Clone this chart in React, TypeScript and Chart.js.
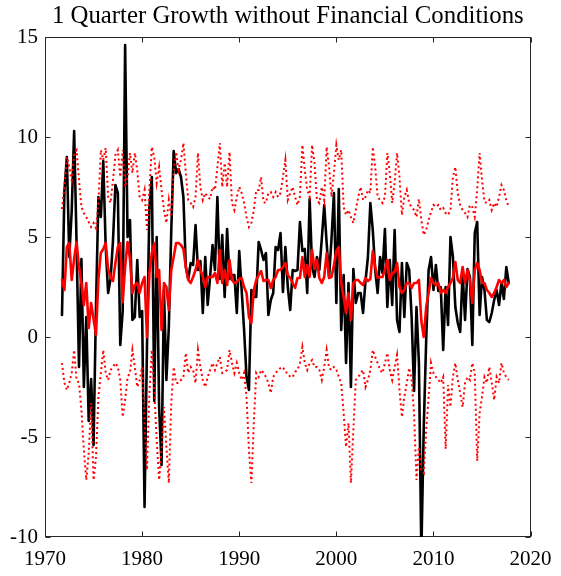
import React, { useEffect, useRef } from "react";
import { Chart, registerables } from "chart.js";

Chart.register(...registerables);

const TITLE = "1 Quarter Growth without Financial Conditions";
const FIRST_QUARTER = 1971.75;
const X_TICKS = [1970, 1980, 1990, 2000, 2010, 2020];
const Y_TICKS = [-10, -5, 0, 5, 10, 15];

// realized GDP growth (black)
const actual = [
  1.1, 7.3, 9.0, 4.0, 6.3, 10.3, 4.7, -1.5, 3.9, -2.5,
  1.0, -4.2, -2.1, -5.4, 1.5, 7.0, 6.0, 8.8, 4.5, 2.2,
  2.9, 4.8, 7.6, 7.2, -0.4, 1.3, 14.6, 5.0, 5.85, 0.85,
  1.0, 3.85, 1.0, 1.3, -8.5, -0.5, 6.5, 8.0, -3.2, 5.0,
  -3.5, -6.4, 2.35, -2.15, 0.5, 5.3, 9.3, 8.2, 8.4, 8.0,
  7.0, 3.5, 2.9, 3.7, 3.6, 5.6, 3.35, 3.8, 1.2, 4.0,
  1.6, 3.0, 4.6, 3.35, 7.0, 2.9, 5.1, 2.0, 5.4, 2.9,
  3.1, 3.1, 1.2, 4.3, 2.35, 0.35, -2.0, -2.65, 2.35, 2.0,
  2.0, 4.75, 4.35, 3.85, 4.2, 1.1, 1.85, 2.2, 4.5, 4.35,
  5.2, 2.25, 4.5, 2.5, 1.35, 3.35, 3.3, 3.35, 5.75, 4.3,
  4.4, 2.2, 6.9, 3.5, 3.0, 4.0, 3.35, 4.9, 6.6, 4.7,
  3.0, 4.9, 7.2, 1.7, 7.4, 0.35, 3.1, -1.3, 2.7, -2.5,
  3.4, 1.7, 2.2, 2.2, 1.2, 2.8, 4.0, 6.7, 5.35, 3.35,
  2.2, 4.0, 3.2, 5.4, 1.5, 3.85, 1.6, 5.35, 0.85, 0.25,
  3.7, 1.0, 3.7, 3.35, 1.0, -2.7, 1.5, -1.3, -10.8, -4.5,
  -0.15, 3.35, 4.0, 2.35, 3.6, 2.3, 2.5, -0.65, 2.5, 0.6,
  5.0, 4.0, 1.5, 0.7, 0.25, 3.2, 0.85, 3.4, 3.0, -0.4,
  5.2, 5.75, 1.1, 3.0, 2.35, 0.85, 0.75, 1.2, 1.85, 2.35,
  1.6, 2.7, 1.9, 3.5, 2.7,
];

// median forecast (solid red)
const median = [
  2.85, 2.35, 4.5, 4.7, 2.85, 3.9, 4.75, 3.5, 2.7, 1.6,
  2.7, 0.45, 1.7, 0.9, 0.1, 2.9, 4.2, 4.4, 4.7, 3.4,
  3.0, 2.8, 3.7, 4.5, 4.7, 1.75, 3.5, 4.75, 3.9, 2.2,
  2.6, 2.7, 2.2, 2.7, 3.0, 0.0, 3.2, 4.2, 4.7, 3.0,
  3.35, 0.35, 2.7, 2.5, 1.35, 3.35, 4.0, 4.7, 4.7, 4.6,
  4.4, 3.5, 2.85, 2.7, 3.0, 3.35, 3.85, 3.35, 3.0, 2.5,
  3.0, 3.0, 3.0, 3.2, 2.7, 4.35, 2.7, 3.35, 2.6, 3.85,
  2.85, 2.7, 2.75, 2.9, 2.95, 2.5, 2.2, 1.0, 0.7, 2.35,
  2.85, 3.1, 3.3, 2.8, 2.85, 2.85, 2.45, 2.85, 3.0, 3.35,
  3.35, 3.5, 3.7, 3.1, 2.95, 2.7, 2.45, 2.95, 2.95, 4.0,
  3.0, 3.6, 3.0, 4.35, 3.4, 3.85, 2.95, 2.7, 3.0, 4.2,
  2.95, 3.0, 3.6, 4.3, 4.5, 2.7, 2.0, 1.2, 2.2, 0.85,
  2.7, 2.85, 2.85, 2.7, 2.6, 2.95, 2.8, 2.9, 4.3, 3.5,
  2.95, 3.0, 3.0, 3.35, 3.85, 2.85, 3.2, 3.25, 3.7, 2.5,
  2.2, 2.35, 2.7, 2.7, 2.45, 2.7, 2.7, 2.85, 0.8, 0.0,
  1.5, 2.2, 2.95, 2.7, 2.6, 2.7, 2.2, 2.35, 2.2, 2.5,
  2.7, 2.95, 3.75, 2.85, 2.7, 3.5, 2.7, 3.35, 2.85, 1.7,
  3.35, 3.7, 3.35, 2.7, 2.7, 2.35, 2.2, 2.0, 2.2, 2.5,
  2.85, 2.7, 2.85, 2.5, 2.7,
];

// upper quantile (dotted red)
const upper = [
  6.4, 7.5, 9.0, 8.5, 7.85, 9.2, 9.35, 7.85, 6.5, 6.2,
  6.0, 5.75, 5.5, 5.7, 5.45, 6.7, 9.35, 8.85, 9.45, 7.0,
  6.7, 7.85, 9.1, 9.35, 8.0, 9.35, 7.5, 8.0, 9.2, 8.2,
  9.2, 8.3, 7.0, 6.85, 7.35, 5.35, 7.35, 9.5, 9.0, 7.7,
  8.5, 7.35, 6.35, 5.7, 6.85, 6.0, 8.35, 9.25, 8.35, 8.85,
  9.7, 8.2, 6.85, 6.7, 6.5, 7.0, 9.2, 7.5, 6.85, 7.2,
  7.0, 6.9, 7.5, 7.35, 8.5, 9.7, 7.5, 8.7, 7.5, 9.25,
  6.7, 6.35, 7.0, 7.5, 7.2, 6.7, 6.0, 5.5, 5.7, 6.35,
  7.35, 7.35, 8.0, 6.75, 6.7, 7.2, 7.25, 7.0, 7.25, 7.0,
  7.2, 8.0, 8.85, 6.85, 7.2, 7.5, 7.0, 6.6, 7.0, 9.6,
  8.35, 7.35, 7.0, 9.6, 8.7, 6.85, 6.7, 7.5, 6.85, 9.5,
  8.5, 7.0, 8.2, 9.6, 8.85, 9.35, 6.5, 6.1, 6.35, 6.0,
  5.7, 6.35, 7.0, 7.5, 6.85, 7.0, 7.35, 7.2, 9.5, 8.5,
  7.0, 6.85, 6.7, 7.0, 9.2, 8.2, 6.7, 7.7, 9.2, 8.0,
  6.1, 7.0, 7.35, 6.7, 6.5, 6.35, 6.0, 6.9, 5.85, 5.1,
  5.35, 5.85, 6.25, 6.6, 6.5, 6.6, 6.35, 6.45, 6.2, 6.1,
  6.35, 8.0, 8.5, 7.2, 6.6, 6.35, 6.2, 6.0, 6.6, 6.5,
  6.0, 7.35, 9.2, 7.85, 6.75, 6.7, 6.85, 6.35, 6.7, 6.5,
  7.0, 7.6, 7.35, 6.85, 6.5,
];

// lower quantile (dotted red)
const lower = [
  -1.3, -2.3, -2.65, -2.3, -1.8, -0.65, -2.15, -2.3, -3.65, -5.65,
  -7.15, -5.8, -3.3, -7.15, -6.0, -3.0, -1.8, -0.65, -1.8, -2.15,
  -1.65, -1.5, -1.3, -1.5, -2.15, -4.0, -3.15, -2.0, -1.8, -0.65,
  -1.5, -2.5, -2.15, -1.5, -4.3, -6.65, -2.8, -0.65, -2.65, -5.15,
  -7.15, -5.65, -3.5, -5.5, -7.3, -3.3, -1.5, -2.3, -2.3, -2.15,
  -2.0, -0.8, -1.8, -1.5, -1.65, -2.3, -0.65, -1.5, -2.15, -2.5,
  -2.0, -1.65, -1.3, -1.65, -1.3, -1.0, -1.8, -1.75, -1.65, -0.65,
  -1.3, -1.8, -1.3, -1.8, -2.15, -1.8, -3.0, -5.65, -7.3, -4.3,
  -1.8, -2.0, -1.65, -1.8, -2.0, -2.3, -2.8, -2.0, -1.8, -1.65,
  -1.55, -1.5, -1.75, -1.8, -2.0, -2.0, -1.75, -1.65, -1.3, -0.5,
  -1.3, -1.65, -1.3, -1.15, -1.5, -1.5, -1.65, -2.15, -1.5, -0.65,
  -1.55, -1.65, -1.5, -1.65, -2.0, -2.3, -3.8, -5.5, -4.3, -7.3,
  -4.65, -2.15, -2.0, -1.8, -1.65, -2.5, -2.15, -1.65, -0.65, -1.0,
  -1.3, -1.65, -1.8, -1.3, -0.8, -1.65, -2.15, -1.5, -0.9, -2.65,
  -4.0, -3.0, -2.3, -1.55, -2.15, -3.8, -7.15, -5.5, -6.65, -6.8,
  -4.65, -3.0, -1.3, -1.8, -2.0, -2.15, -2.3, -2.0, -5.6, -2.4,
  -3.5, -2.0, -1.3, -2.15, -2.8, -3.5, -2.3, -2.0, -2.15, -1.3,
  -1.8, -6.2, -3.8, -3.0, -2.0, -2.3, -1.5, -2.3, -3.15, -2.0,
  -2.3, -1.3, -1.8, -2.0, -2.15,
];

const dates = actual.map((_, i) => FIRST_QUARTER + i / 4);
const toPoints = (arr: number[]) => arr.map((v, i) => ({ x: dates[i], y: v }));

const FONT = "'Liberation Serif', 'Times New Roman', serif";
const AXIS_COLOR = "#262626";

const boxPlugin = {
  id: "matlabBox",
  beforeDatasetsDraw(chart: any) {
    const { ctx, chartArea: a, scales } = chart;
    const L = 5;
    ctx.save();
    ctx.strokeStyle = AXIS_COLOR;
    ctx.lineWidth = 1;
    const l = Math.round(a.left) + 0.5;
    const r = Math.round(a.right) - 0.5;
    const t = Math.round(a.top) + 0.5;
    const b = Math.round(a.bottom) - 0.5;
    ctx.strokeRect(l, t, r - l, b - t);
    ctx.beginPath();
    X_TICKS.forEach((v) => {
      const px = Math.round(scales.x.getPixelForValue(v)) + 0.5;
      ctx.moveTo(px, b);
      ctx.lineTo(px, b - L);
      ctx.moveTo(px, t);
      ctx.lineTo(px, t + L);
    });
    Y_TICKS.forEach((v) => {
      const py = Math.round(scales.y.getPixelForValue(v)) + 0.5;
      ctx.moveTo(l, py);
      ctx.lineTo(l + L, py);
      ctx.moveTo(r, py);
      ctx.lineTo(r - L, py);
    });
    ctx.stroke();
    ctx.restore();
  },
};

const solid = (color: string) => ({
  borderColor: color,
  borderWidth: 2.6,
  borderJoinStyle: "round",
  borderCapStyle: "round",
  pointRadius: 0,
  tension: 0,
  clip: 0,
});

const dotted = {
  borderColor: "#ff0000",
  borderWidth: 2,
  borderDash: [2, 3],
  borderCapStyle: "butt",
  pointRadius: 0,
  tension: 0,
  clip: 0,
};

export default function App() {
  const ref = useRef<HTMLCanvasElement | null>(null);

  useEffect(() => {
    if (!ref.current) return;
    const chart = new Chart(ref.current, {
      type: "line",
      data: {
        datasets: [
          { label: "Realized", data: toPoints(actual), ...solid("#000000"), order: 4 },
          { label: "Median", data: toPoints(median), ...solid("#ff0000"), order: 3 },
          { label: "Upper", data: toPoints(upper), ...dotted, order: 2 },
          { label: "Lower", data: toPoints(lower), ...dotted, order: 1 },
        ],
      } as any,
      options: {
        responsive: false,
        animation: false,
        devicePixelRatio: 1,
        layout: { padding: { left: 0, right: 27, top: 0, bottom: 0 } },
        plugins: {
          legend: { display: false },
          tooltip: { enabled: false },
          title: {
            display: true,
            fullSize: false,
            text: TITLE,
            color: "#000000",
            font: { family: FONT, size: 24.8, weight: "normal", lineHeight: 1 },
            padding: { top: 4, bottom: 8.2 },
          },
        },
        scales: {
          x: {
            type: "linear",
            min: 1970,
            max: 2020,
            afterBuildTicks: (s: any) => {
              s.ticks = X_TICKS.map((v) => ({ value: v }));
            },
            afterFit: (s: any) => {
              s.height = 39;
            },
            grid: { display: false, drawTicks: false },
            border: { display: false },
            ticks: {
              padding: 9.4,
              color: "#000000",
              font: { family: FONT, size: 21, lineHeight: 1.2 },
              maxRotation: 0,
              autoSkip: false,
              callback: (v: any) => String(v),
            },
          },
          y: {
            type: "linear",
            min: -10,
            max: 15,
            afterBuildTicks: (s: any) => {
              s.ticks = Y_TICKS.map((v) => ({ value: v }));
            },
            afterFit: (s: any) => {
              s.width = 45;
            },
            grid: { display: false, drawTicks: false },
            border: { display: false },
            ticks: {
              padding: 7,
              color: "#000000",
              font: { family: FONT, size: 21 },
              autoSkip: false,
              callback: (v: any) => String(v),
            },
          },
        },
      } as any,
      plugins: [boxPlugin],
    });
    return () => chart.destroy();
  }, []);

  return (
    <div style={{ position: "fixed", left: 0, top: 0, width: 561, height: 576, background: "#ffffff" }}>
      <canvas ref={ref} width={561} height={576} style={{ display: "block", width: 561, height: 576 }} />
    </div>
  );
}
